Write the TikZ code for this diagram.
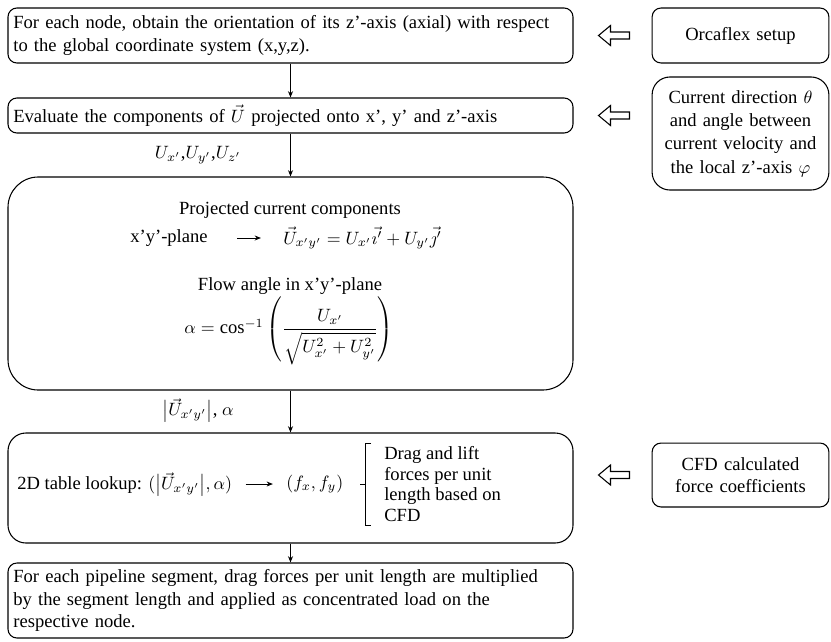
\documentclass[tikz,border=0pt]{standalone}
\usepackage{amsmath}
\usepackage{fontspec}
\setmainfont{Liberation Serif}
\usetikzlibrary{arrows.meta,calc,positioning}

% open block arrow pointing left, centred on a named coordinate
\newcommand{\hollowarrow}[1]{%
  \draw[line width=0.6pt,fill=white,line join=miter] (#1) ++(-15.5,0) -- ++(12,-10) -- ++(0,6.5)
    -- ++(19,0) -- ++(0,7) -- ++(-19,0) -- ++(0,6.5) -- cycle;}

\begin{document}
\begin{tikzpicture}[x=0.56pt,y=-0.56pt,
every node/.style={font=\fontsize{10.4}{12.6}\selectfont},
box/.style={draw,rounded corners=5pt,line width=0.6pt,inner xsep=3pt,inner ysep=0pt},
leftbox/.style={box,text width=310.4pt,align=left,minimum height=#1},
rightbox/.style={box,text width=93pt,align=center,minimum height=#1},
flow/.style={-{Stealth[length=3.5pt,width=2.8pt]},line width=0.5pt}]
\useasboundingbox (0,0) rectangle (831,641);

% left column
\node[leftbox=30.8pt] (orient) at (290.5,35.5) {For each node, obtain the orientation of its z’-axis (axial) with respect\\to the global coordinate system (x,y,z).};
\node[leftbox=19.6pt] (evaluate) at (290.5,115.5) {Evaluate the components of $\vec{U}$ projected onto x’, y’ and z’-axis};
\node[box,rounded corners=17pt,minimum width=316.4pt,minimum height=119.3pt] (project) at (290.5,283.5) {};
\node[leftbox=61.6pt,rounded corners=10pt] (lookup) at (290.5,488) {};
\node[leftbox=42pt] (apply) at (290.5,600.5) {For each pipeline segment, drag forces per unit length are multiplied\\by the segment length and applied as concentrated load on the\\respective node.};

% inside the projection box
\node (projtitle) at (290,210) {Projected current components};
\node (plane) at (169,238) {x’y’-plane};
\node[anchor=west] (uvec) at (277,238) {$\vec{U}_{x'y'} = U_{x'}\vec{\imath'} + U_{y'}\vec{\jmath'}$};
\draw[flow,shorten <=13pt,shorten >=9pt] (plane.east) -- (uvec.west);
\node (flowtitle) at (290,286) {Flow angle in x’y’-plane};
\node (alpha) at (289,331) {$\alpha = \cos^{-1}\left(\dfrac{U_{x'}}{\sqrt{U_{x'}^2+U_{y'}^2}}\right)$};

% inside the lookup box
\node[anchor=west] (table) at (11,484) {2D table lookup: $(\bigl|\vec{U}_{x'y'}\bigr|,\alpha)$};
\node[anchor=west] (fxfy) at (280,484) {$(f_x,f_y)$};
\draw[flow,shorten <=4pt,shorten >=4pt] (table.east) -- (fxfy.west);
\node[anchor=west,align=left,font=\fontsize{10.4}{11.6}\selectfont] (drag) at (378,484) {Drag and lift\\forces per unit\\length based on\\CFD};
\draw[line width=0.5pt] (371,443) -- (365,443) -- (365,525) -- (371,525);
\draw[line width=0.5pt] (365,484) -- (360,484);

% right column
\node[rightbox=30.8pt] (setup) at (740.5,35.5) {Orcaflex setup};
\node[rightbox=63.3pt,rounded corners=10pt,font=\fontsize{10.4}{13}\selectfont] (current) at (740.5,133.5) {Current direction $\theta$\\and angle between\\current velocity and\\the local z’-axis $\varphi$};
\node[rightbox=35.8pt] (cfd) at (740.5,475) {CFD calculated\\force coefficients};

\coordinate (in1) at (614,35.5);
\coordinate (in2) at (614,115.5);
\coordinate (in3) at (614,475);
\hollowarrow{in1}
\hollowarrow{in2}
\hollowarrow{in3}

% flow down
\draw[flow] (orient) -- (evaluate);
\draw[flow] (evaluate) -- (project);
\draw[flow] (project) -- (lookup);
\draw[flow] (lookup) -- (apply);
\node (ucomp) at (198,155) {$U_{x'}$,$U_{y'}$,$U_{z'}$};
\node (umag) at (198,410) {$\bigl|\vec{U}_{x'y'}\bigr|$, $\alpha$};
\end{tikzpicture}
\end{document}
